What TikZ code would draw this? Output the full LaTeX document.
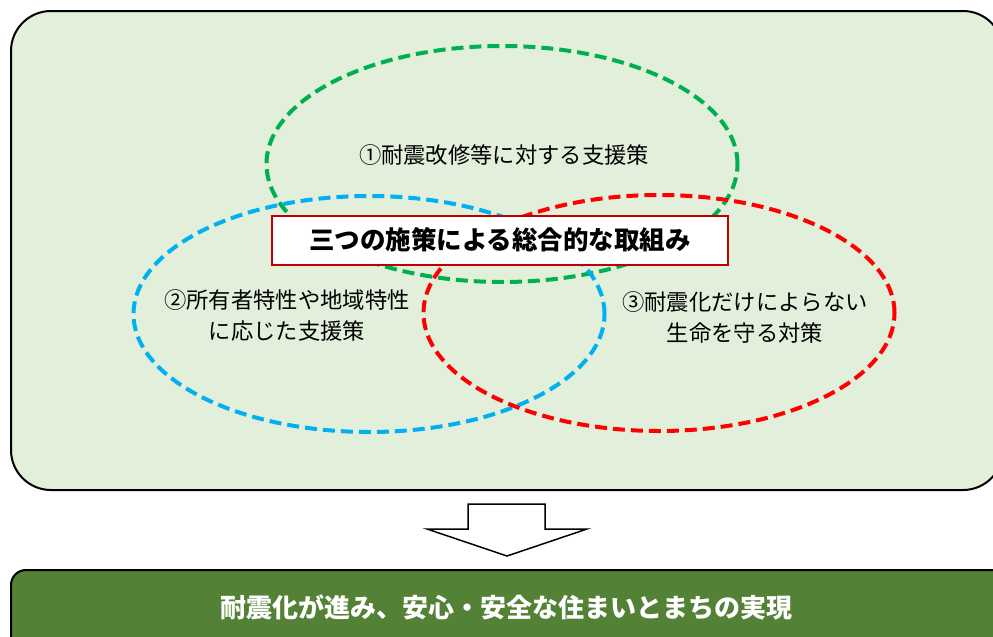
\documentclass[tikz,border=0pt]{standalone}
\usepackage{fontspec}
\setmainfont{Noto Sans CJK JP}
\usetikzlibrary{shapes.geometric}
\definecolor{panelfill}{HTML}{E2EFDA}
\definecolor{barfill}{HTML}{538135}
\definecolor{cgreen}{HTML}{00B050}
\definecolor{cblue}{HTML}{00B0F0}
\definecolor{cred}{HTML}{FF0000}
\definecolor{titleborder}{HTML}{C00000}
\tikzset{
  ring/.style={ellipse, draw, line width=4pt, dash pattern=on 12pt off 6pt,
    minimum width=471pt, minimum height=236pt, inner sep=0pt},
  lbl/.style={font=\fontsize{22.3}{31}\selectfont, align=center, inner sep=0pt, text=black},
}
\begin{document}
\begin{tikzpicture}[x=1pt,y=-1pt]
\useasboundingbox (0,0) rectangle (993,637);
\clip (0,0) rectangle (993,637);
% panel
\draw[fill=panelfill, line width=2pt, rounded corners=40pt] (11,11) rectangle (1003,490);
% ellipses
\node[ring, draw=cgreen] (g) at (502,164) {};
\node[ring, draw=cblue] (b) at (369,314) {};
\node[ring, draw=cred] (r) at (659,313) {};
% title box
\node[draw=titleborder, line width=2pt, fill=white, minimum width=456pt, minimum height=49pt,
  inner sep=0pt, font=\bfseries\fontsize{25.5}{28}\selectfont] (title) at (500,240) {三つの施策による総合的な取組み};
% labels
\node[lbl] (l1) at (504,155) {①耐震改修等に対する支援策};
\node[lbl] (l2) at (287,315) {②所有者特性や地域特性\\に応じた支援策};
\node[lbl] (l3) at (745,317) {③耐震化だけによらない\\生命を守る対策};
% arrow
\draw[line width=1.5pt, fill=white] (468,504) -- (545,504) -- (545,529) -- (587,529) -- (507,556)
  -- (427,529) -- (468,529) -- cycle;
% bottom bar
\draw[fill=barfill, line width=2pt, rounded corners=15pt] (11,570) rectangle (1010,660);
\node[text=white, font=\bfseries\fontsize{26}{28}\selectfont] (result) at (506,607) {耐震化が進み、安心・安全な住まいとまちの実現};
\end{tikzpicture}
\end{document}
